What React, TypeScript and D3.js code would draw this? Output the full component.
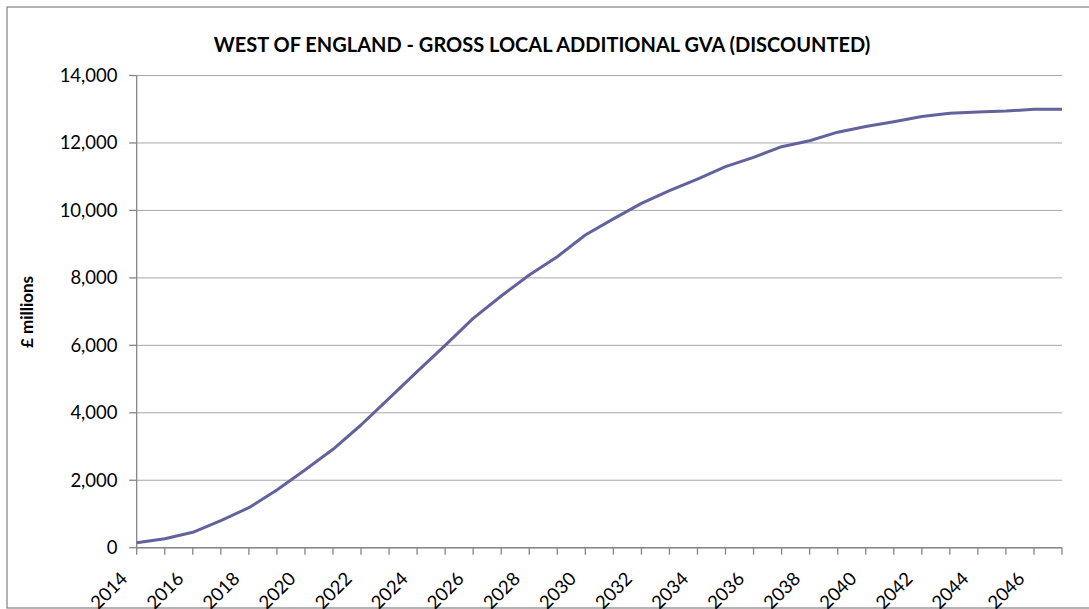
import React from "react";
import * as d3 from "d3";

const years: number[] = [
  2014, 2015, 2016, 2017, 2018, 2019, 2020, 2021, 2022, 2023, 2024, 2025,
  2026, 2027, 2028, 2029, 2030, 2031, 2032, 2033, 2034, 2035, 2036, 2037,
  2038, 2039, 2040, 2041, 2042, 2043, 2044, 2045, 2046, 2047,
];
const gva: number[] = [
  148, 267, 456, 800, 1186, 1711, 2304, 2917, 3638, 4429, 5218, 6000,
  6800, 7462, 8085, 8627, 9270, 9750, 10210, 10585, 10931, 11296, 11574, 11889,
  12067, 12320, 12490, 12630, 12785, 12879, 12917, 12947, 12997, 12997,
];
const yTicks: number[] = [0, 2000, 4000, 6000, 8000, 10000, 12000, 14000];
const xLabelYears: number[] = [
  2014, 2016, 2018, 2020, 2022, 2024, 2026, 2028, 2030, 2032, 2034, 2036,
  2038, 2040, 2042, 2044, 2046,
];
const title = "WEST OF ENGLAND - GROSS LOCAL ADDITIONAL GVA (DISCOUNTED)";
const yAxisTitle = "£ millions";

const W = 1089;
const H = 609;
const FONT = "Lato, 'Open Sans', sans-serif";

export default function App() {
  const x = d3.scalePoint<number>().domain(years).range([136.7, 1062]);
  const y = d3.scaleLinear().domain([0, 14000]).range([547.7, 75.5]);
  const fmt = d3.format(",");
  const line = d3
    .line<number>()
    .x((_, i) => x(years[i]) as number)
    .y((d) => y(d));

  const axisColor = "#868686";
  const left = x(years[0]) as number;
  const right = x(years[years.length - 1]) as number;

  return (
    <svg
      width={W}
      height={H}
      style={{ position: "absolute", left: 0, top: 0, background: "#fff" }}
      fontFamily={FONT}
    >
      <rect x={0} y={0} width={W} height={H} fill="#fff" />
      <rect
        x={7}
        y={7}
        width={W}
        height={601}
        fill="none"
        stroke="#8a8a8a"
        strokeWidth={1.3}
      />
      <text
        x={542}
        y={52}
        textAnchor="middle"
        fontWeight="bold"
        fontSize={20}
        fill="#000"
      >
        {title}
      </text>
      {yTicks.map((t) => (
        <line
          key={"g" + t}
          x1={left}
          x2={right}
          y1={y(t)}
          y2={y(t)}
          stroke="#a8a8a8"
          strokeWidth={1}
        />
      ))}
      <line x1={left} x2={left} y1={y(14000)} y2={y(0)} stroke={axisColor} strokeWidth={1.3} />
      {yTicks.map((t) => (
        <g key={"yt" + t}>
          <line x1={left - 7.5} x2={left} y1={y(t)} y2={y(t)} stroke={axisColor} strokeWidth={1.3} />
          <text
            x={117.5}
            y={y(t)}
            dy="0.35em"
            textAnchor="end"
            fontSize={18.5}
            fill="#000"
          >
            {fmt(t)}
          </text>
        </g>
      ))}
      <text
        transform={`translate(33,312) rotate(-90)`}
        textAnchor="middle"
        fontWeight="bold"
        fontSize={17}
        fill="#000"
      >
        {yAxisTitle}
      </text>
      <line x1={left} x2={right} y1={y(0)} y2={y(0)} stroke={axisColor} strokeWidth={1.5} />
      {years.map((yr) => (
        <line
          key={"xt" + yr}
          x1={x(yr) as number}
          x2={x(yr) as number}
          y1={y(0)}
          y2={y(0) + 7}
          stroke={axisColor}
          strokeWidth={1.3}
        />
      ))}
      {xLabelYears.map((yr) => (
        <text
          key={"xl" + yr}
          transform={`translate(${(x(yr) as number) - 8},580) rotate(-45)`}
          textAnchor="end"
          fontSize={18.5}
          fill="#000"
        >
          {yr}
        </text>
      ))}
      <path
        d={line(gva) || ""}
        fill="none"
        stroke="#62629c"
        strokeWidth={3}
        strokeLinejoin="round"
      />
    </svg>
  );
}
